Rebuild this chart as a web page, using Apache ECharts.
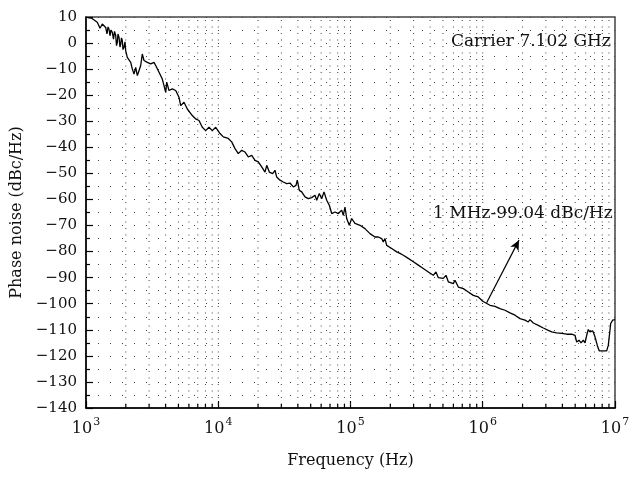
<!DOCTYPE html>
<html>
<head>
<meta charset="utf-8">
<script src="https://cdn.jsdelivr.net/npm/echarts@6/dist/echarts.min.js"></script>
<style>
  html, body { margin: 0; padding: 0; background: #fff; }
  #chart { width: 641px; height: 478px; }
</style>
</head>
<body>
<div id="chart"></div>
<script>
// Measured phase noise of the 7.102 GHz carrier: offset frequency (Hz) and level (dBc/Hz)
const offsetHz = [
  1035, 1097, 1217, 1276, 1328, 1409, 1441, 1467, 1492, 1519, 1545, 1581, 1614, 1643, 1677,
  1701, 1725, 1746, 1777, 1807, 1830, 1855, 1882, 1905, 1938, 1972, 1996,
  2052, 2178, 2239, 2306, 2376, 2443, 2516, 2592, 2665, 2745, 2908, 3085, 3268, 3365, 3565,
  3776, 3889, 4005, 4076, 4242, 4494, 4768, 5049, 5201, 5508, 5834, 6366, 6753, 7153, 7576,
  8036, 8511, 9016, 9565, 10310, 10920, 11910, 12640, 13390, 14180, 15040, 15940, 16880, 17900,
  18970, 20090, 21310, 22570, 23250, 24320, 25800, 26850, 27670, 29300, 31040, 32930, 34870,
  36940, 38710, 39600, 41030, 42760, 45290, 47960, 50890, 53890, 55510, 58080, 60560, 63040,
  66070, 69150, 72100, 76350, 80860, 85800, 88230, 90870, 93610, 97920, 102100, 108100,
  118000, 128700, 140400, 153200, 162300, 167200, 172200, 177000, 182300, 187800, 204900,
  223600, 236800, 250800, 273500, 298500, 325700, 355300, 387600, 422800, 443100, 461200,
  503100, 527400, 549000, 598900, 617000, 653400, 712700, 777600, 848300, 925500, 1000000,
  1134000, 1238000, 1350000, 1473000, 1607000, 1754000, 1913000, 2087000, 2210000, 2277000,
  2412000, 2630000, 2870000, 3131000, 3321000, 3624000, 3954000, 4313000, 4706000, 4984000,
  5133000, 5343000, 5534000, 5760000, 5934000, 6109000, 6282000, 6471000, 6783000, 7060000,
  7348000, 7608000, 8155000, 8653000, 8897000, 9279000, 9607000, 10000000
];
const noiseDbc = [
  9.8, 9.6, 8.0, 5.7, 7.3, 6.0, 3.5, 6.2, 5.4, 2.8, 5.0, 4.1, 1.5, 4.5, 2.9,
  -1.0, 0.3, 3.5, 2.2, -1.5, -0.4, 2.0, 0.9, -2.5, -1.6, 0.5, -2.9,
  -5.5, -7.4, -9.9, -11.9, -9.3, -12.5, -10.6, -8.6, -4.2, -6.7, -7.4, -8.0, -7.4, -8.6, -11.2,
  -13.8, -16.3, -18.9, -15.0, -18.2, -17.6, -18.2, -20.8, -24.0, -22.7, -25.3, -27.8, -29.1, -29.7, -32.3,
  -33.6, -32.3, -33.6, -32.3, -34.7, -36.0, -36.6, -37.9, -40.5, -42.4, -41.1, -41.8, -43.7, -43.1,
  -45.0, -45.6, -47.5, -49.5, -46.9, -49.5, -50.1, -48.8, -51.4, -52.6, -53.3, -53.9, -53.7,
  -55.2, -54.6, -52.6, -56.5, -57.1, -59.0, -59.7, -59.3, -58.4, -60.3, -57.7, -59.7, -57.1,
  -60.3, -62.2, -65.4, -64.8, -65.4, -64.1, -66.1, -62.9, -67.3, -69.9, -67.3, -69.2,
  -69.9, -71.2, -73.1, -74.4, -74.4, -75.0, -75.0, -76.3, -75.0, -77.6, -78.8,
  -80.1, -80.7, -81.4, -82.6, -83.9, -85.2, -86.5, -87.8, -89.1, -87.8, -90.0,
  -90.3, -89.1, -91.6, -92.3, -91.0, -93.6, -94.2, -95.5, -96.8, -97.4, -99.04,
  -100.6, -101.0, -101.9, -102.5, -103.5, -104.4, -105.7, -106.3, -107.0, -106.1,
  -107.4, -108.3, -109.3, -110.2, -110.8, -111.2, -111.4, -111.7, -111.7, -112.1,
  -114.7, -114.0, -115.0, -114.0, -115.0, -112.1, -109.9, -110.8, -110.4, -112.7,
  -116.0, -118.1, -118.1, -118.1, -116.0, -107.6, -106.3, -106.1
];

// Axis ranges and labels
const freqMin = 1e3, freqMax = 1e7;
const dbMin = -140, dbMax = 10, dbStep = 10;
const carrierLabel = 'Carrier 7.102 GHz';
const markerLabel = '1 MHz-99.04 dBc/Hz';
const xTitle = 'Frequency (Hz)';
const yTitle = 'Phase noise (dBc/Hz)';

const FONT = 'DejaVu Serif';
const INK = '#111';

// Decade sub-divisions (1..9 × 10^k) used for the dotted vertical grid and minor ticks
const gridFreqs = [];
for (let e = 3; e < 7; e++) {
  for (let m = 1; m <= 9; m++) {
    const f = m * Math.pow(10, e);
    if (f > freqMin) gridFreqs.push(f);
  }
}

const seriesData = offsetHz.map((f, i) => [f, noiseDbc[i]]);

const chart = echarts.init(document.getElementById('chart'), null, { renderer: 'canvas' });

chart.setOption({
  animation: false,
  backgroundColor: '#fff',
  grid: {
    left: 86, right: 26, top: 17, bottom: 70,
    show: true, borderColor: '#444', borderWidth: 1.5, backgroundColor: 'transparent'
  },
  xAxis: {
    type: 'log', logBase: 10, min: freqMin, max: freqMax,
    name: xTitle, nameLocation: 'middle', nameGap: 45,
    nameTextStyle: { fontFamily: FONT, fontSize: 16, color: INK },
    axisLine: { show: true, onZero: false, lineStyle: { color: '#000', width: 1.5 } },
    axisTick: { show: true, inside: true, length: 7, lineStyle: { color: '#000', width: 1.2 } },
    splitLine: { show: false },
    axisLabel: {
      margin: 9,
      formatter: v => '{b|10}{s|' + Math.round(Math.log10(v)) + '}',
      rich: {
        b: { fontFamily: FONT, fontSize: 16, color: INK, verticalAlign: 'bottom' },
        s: { fontFamily: FONT, fontSize: 11, color: INK, verticalAlign: 'top', padding: [0, 0, 9, 1] }
      }
    }
  },
  yAxis: {
    type: 'value', min: dbMin, max: dbMax, interval: dbStep,
    name: yTitle, nameLocation: 'middle', nameGap: 56, nameRotate: 90,
    nameTextStyle: { fontFamily: FONT, fontSize: 16, color: INK },
    axisLine: { show: true, onZero: false, lineStyle: { color: '#000', width: 1.5 } },
    axisTick: { show: true, inside: true, length: 7, lineStyle: { color: '#000', width: 1.2 } },
    minorTick: { show: true, splitNumber: 2, length: 4, lineStyle: { color: '#000', width: 1.2 } },
    splitLine: { show: true, lineStyle: { color: '#444', width: 1, type: [1, 11] } },
    minorSplitLine: { show: true, lineStyle: { color: '#444', width: 1, type: [1, 11] } },
    axisLabel: {
      margin: 9, fontFamily: FONT, fontSize: 15, color: INK,
      formatter: v => (v < 0 ? '\u2212' + Math.abs(v) : String(v))
    }
  },
  series: [
    {
      // dotted vertical grid at each decade sub-division, with minor ticks along the bottom axis
      type: 'custom',
      silent: true,
      z: 1,
      data: gridFreqs.map(f => [f]),
      renderItem: (params, api) => {
        const f = api.value(0);
        const top = api.coord([f, dbMax]);
        const bot = api.coord([f, dbMin]);
        const isDecade = Math.abs(Math.log10(f) - Math.round(Math.log10(f))) < 1e-9;
        const children = [{
          type: 'line',
          shape: { x1: top[0], y1: top[1] + 3, x2: bot[0], y2: bot[1] },
          style: { stroke: '#444', lineWidth: 1, lineDash: [1, 5.5] }
        }];
        if (!isDecade) {
          children.push({
            type: 'line',
            shape: { x1: bot[0], y1: bot[1], x2: bot[0], y2: bot[1] - 4 },
            style: { stroke: '#000', lineWidth: 1.2 }
          });
        }
        return { type: 'group', children };
      }
    },
    {
      type: 'line',
      data: seriesData,
      showSymbol: false,
      symbol: 'none',
      z: 3,
      lineStyle: { color: '#000', width: 1.3 },
      markLine: {
        silent: true,
        symbol: ['none', 'arrow'],
        symbolSize: [7, 10],
        label: { show: false },
        lineStyle: { color: '#000', width: 1.2, type: 'solid' },
        data: [[{ coord: [1.07e6, -99.6] }, { coord: [1.88e6, -75.6] }]]
      },
      markPoint: {
        silent: true,
        symbol: 'circle',
        symbolSize: 0,
        label: {
          show: true, position: 'left', distance: 0,
          fontFamily: FONT, fontSize: 17, color: INK,
          formatter: p => p.name
        },
        data: [
          { name: carrierLabel, coord: [9.3e6, 0.4] },
          { name: markerLabel, coord: [9.6e6, -65.3] }
        ]
      }
    }
  ]
});
</script>
</body>
</html>
